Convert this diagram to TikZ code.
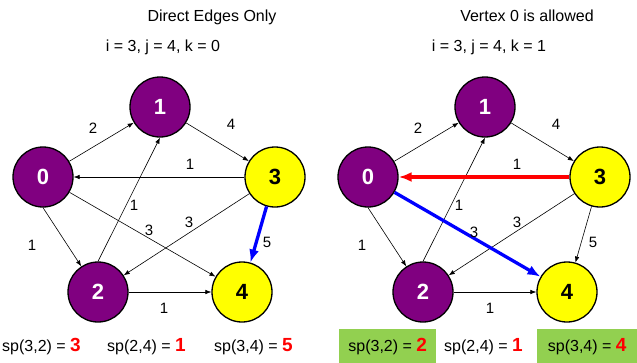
\documentclass[tikz,border=0pt]{standalone}
\usepackage{fontspec}
\setmainfont{Liberation Sans}
\usetikzlibrary{arrows.meta}
\definecolor{nodepurple}{HTML}{800080}
\definecolor{nodeyellow}{HTML}{FFFF00}
\definecolor{pathblue}{HTML}{0000FF}
\definecolor{pathred}{HTML}{FF0000}
\definecolor{hlgreen}{HTML}{92D050}
\newcommand{\spval}[1]{\textcolor{pathred}{\fontsize{19}{23}\selectfont\bfseries #1}}

\begin{document}
\begin{tikzpicture}[
  x=1pt, y=-1pt,
  every node/.style={font=\fontsize{16}{19}\selectfont},
  >={Latex[length=6pt, width=4.5pt]},
  vtx/.style={
    circle, draw=black, line width=1.3pt,
    minimum size=60pt, inner sep=0pt,
    font=\fontsize{22}{26}\selectfont\bfseries
  },
  mid/.style={vtx, fill=nodepurple, text=white},
  endpt/.style={vtx, fill=nodeyellow},
  arrow/.style={->, line width=0.6pt},
  hot/.style={line width=3.3pt, -{Latex[length=13pt, width=10pt]}},
  wt/.style={font=\fontsize{15}{18}\selectfont, inner sep=1pt},
  sp/.style={anchor=base west, inner sep=0pt},
  spbox/.style={
    fill=hlgreen, anchor=base west, inner xsep=0pt,
    text height=13pt, text depth=4pt, inner ysep=9.5pt
  }
]
\useasboundingbox (0,0) rectangle (637,362);

% left: direct edges only
\node[anchor=base] (titleA) at (212,21.5) {Direct Edges Only};
\node[anchor=base] (stepA) at (163,51.5) {i = 3, j = 4, k = 0};

\node[mid] (a0) at (43,177) {0};
\node[mid] (a1) at (160,107) {1};
\node[mid] (a2) at (98,292) {2};
\node[endpt] (a3) at (275,177) {3};
\node[endpt] (a4) at (242,292) {4};

\draw[arrow] (a0) -- (a1);
\draw[arrow] (a1) -- (a3);
\draw[arrow] (a3) -- (a0);
\draw[arrow] (a2.north) -- (a1.south);
\draw[arrow] (a0.south) -- (a2);
\draw[arrow] (a0) -- (a4);
\draw[arrow] (a3) -- (a2);
\draw[arrow] (a2) -- (a4);
\draw[hot, pathblue] (a3) -- (a4);

\node[wt] (wa01) at (93,128) {2};
\node[wt] (wa13) at (231,124) {4};
\node[wt] (wa30) at (190,164) {1};
\node[wt] (wa21) at (134,205) {1};
\node[wt] (wa04) at (149,230) {3};
\node[wt] (wa32) at (189,222) {3};
\node[wt] (wa02) at (32,245) {1};
\node[wt] (wa34) at (267,242) {5};
\node[wt] (wa24) at (164,308) {1};

\node[sp] (spA32) at (2,351) {sp(3,2) = \spval{3}};
\node[sp] (spA24) at (107,351) {sp(2,4) = \spval{1}};
\node[sp] (spA34) at (214,351) {sp(3,4) = \spval{5}};

% right: vertex 0 may be used
\node[anchor=base] (titleB) at (527,21.5) {Vertex 0 is allowed};
\node[anchor=base] (stepB) at (489,51.5) {i = 3, j = 4, k = 1};

\node[mid] (b0) at (368,177) {0};
\node[mid] (b1) at (485,107) {1};
\node[mid] (b2) at (423,292) {2};
\node[endpt] (b3) at (600,177) {3};
\node[endpt] (b4) at (567,292) {4};

\draw[arrow] (b0) -- (b1);
\draw[arrow] (b1) -- (b3);
\draw[arrow] (b2.north) -- (b1.south);
\draw[arrow] (b0.south) -- (b2);
\draw[arrow] (b3) -- (b2);
\draw[arrow] (b3) -- (b4);
\draw[arrow] (b2) -- (b4);
\draw[hot, pathred] (b3) -- (b0);
\draw[hot, pathblue] (b0) -- (b4);

\node[wt] (wb01) at (418,128) {2};
\node[wt] (wb13) at (556,124) {4};
\node[wt] (wb30) at (517,164) {1};
\node[wt] (wb21) at (459,205) {1};
\node[wt] (wb04) at (474,232) {3};
\node[wt] (wb32) at (517,222) {3};
\node[wt] (wb02) at (362,245) {1};
\node[wt] (wb34) at (593,242) {5};
\node[wt] (wb24) at (490,308) {1};

\node[spbox, minimum width=97pt] (spB32) at (339,351) {sp(3,2) = \spval{2}};
\node[sp] (spB24) at (444,351) {sp(2,4) = \spval{1}};
\node[spbox, minimum width=100pt] (spB34) at (537,351) {sp(3,4) = \spval{4}};

\end{tikzpicture}
\end{document}
